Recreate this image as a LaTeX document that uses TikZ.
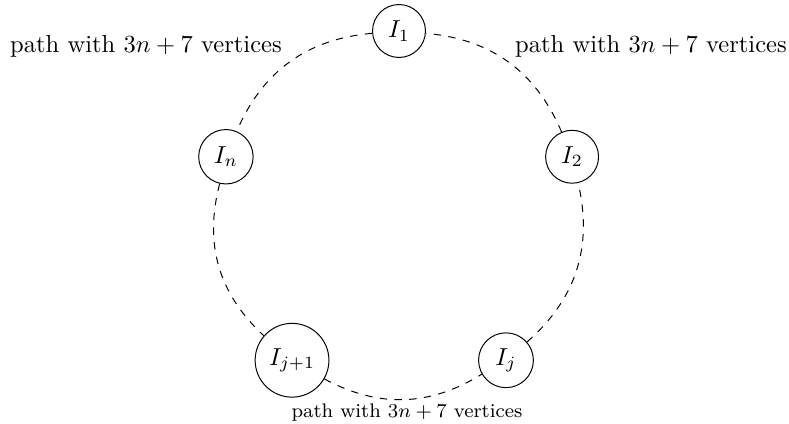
\documentclass[tikz,border=0pt]{standalone}
\begin{document}
\begin{tikzpicture}[x=0.407pt,y=0.407pt,
  vtx/.style={draw,circle,fill=white,inner sep=3.3pt},
  link/.style={draw,dashed},
  lbl/.style={anchor=base,inner sep=0pt}]
\useasboundingbox (0,0) rectangle (789,423);
\begin{scope}[shift={(399,210)}]
  \node[vtx] (I1)  at (90:182)  {$I_1$};
  \node[vtx] (In)  at (162:182) {$I_n$};
  \node[vtx] (Ij1) at (234:182) {$I_{j+1}$};
  \node[vtx] (Ij)  at (306:182) {$I_j$};
  \node[vtx] (I2)  at (18:182)  {$I_2$};
\end{scope}
% dashed paths running around the cycle
\draw[link] (I1)  to[bend right=31] (In);
\draw[link] (In)  to[bend right=31] (Ij1);
\draw[link] (Ij1) to[bend right=30] (Ij);
\draw[link] (Ij)  to[bend right=31] (I2);
\draw[link] (I2)  to[bend right=31] (I1);
% path labels
\node[lbl] (t1) at (146,371) {path with $3n+7$ vertices};
\node[lbl] (t2) at (651,371) {path with $3n+7$ vertices};
\node[lbl,font=\footnotesize] (t3) at (407,6) {path with $3n+7$ vertices};
\end{tikzpicture}
\end{document}
